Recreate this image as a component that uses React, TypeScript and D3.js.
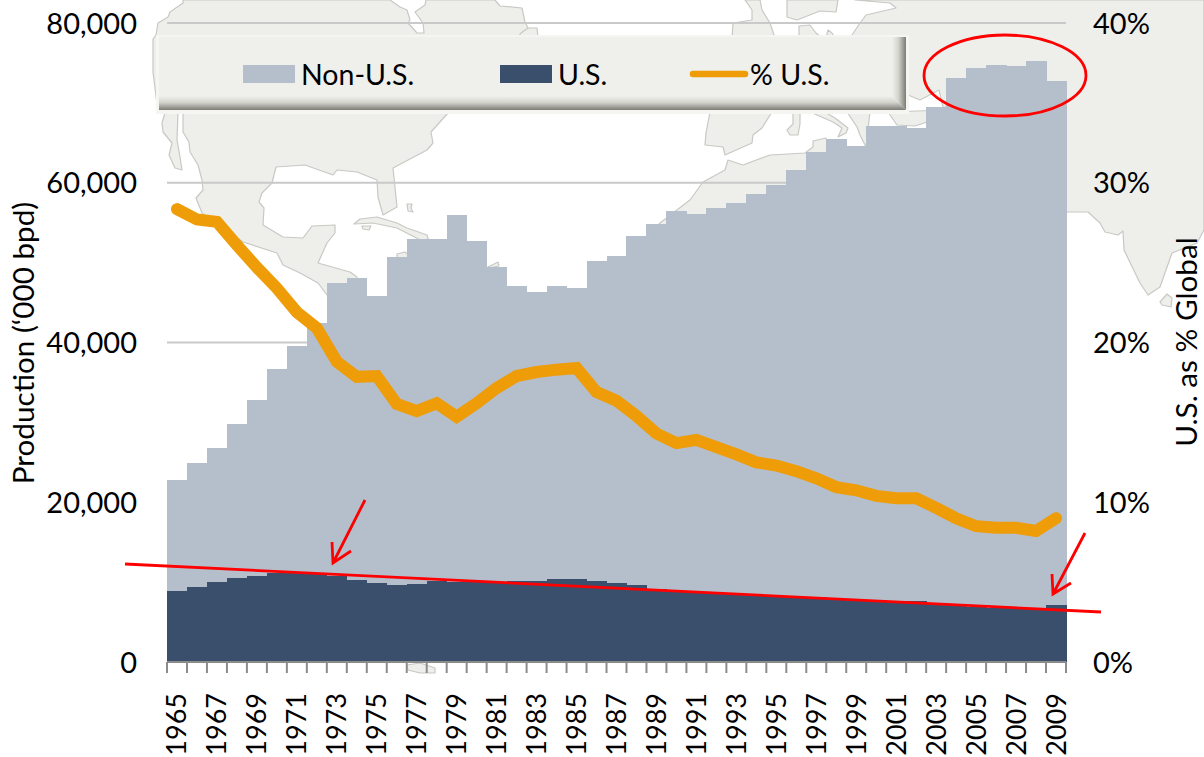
import React from "react";
import * as d3 from "d3";

const years = d3.range(1965, 2010);
const usProduction = [8900,9400,10000,10500,10770,11140,11100,10980,10770,10270,9890,9640,9770,10140,10050,10050,10000,10140,10140,10390,10390,10140,9890,9640,9100,8900,8800,8650,8400,8300,8200,8200,8100,7900,7600,7700,7650,7600,7400,7200,6850,6800,6800,6750,7140];
const nonUsProduction = [13900,15500,16800,19300,22030,25560,28500,31420,36730,37830,35910,41060,43130,42860,45850,42650,39400,36960,36160,36710,36410,40060,40910,43660,45700,47600,47300,48150,49100,50300,51500,53400,55800,57600,57000,59400,59450,59300,62100,65900,67550,67900,67800,68550,65560];
const usShare = [28.35,27.7,27.55,26.1,24.7,23.4,21.9,20.9,18.8,17.85,17.9,16.15,15.7,16.2,15.35,16.2,17.15,17.9,18.15,18.3,18.4,16.9,16.35,15.4,14.3,13.7,13.9,13.45,13.0,12.5,12.3,11.95,11.5,10.95,10.75,10.4,10.25,10.25,9.65,9.0,8.5,8.4,8.4,8.2,9.0];
const leftTicks = [0, 20000, 40000, 60000, 80000];
const rightTicks = [0, 10, 20, 30, 40];

const FONT = "Lato, Carlito, sans-serif";
const LAND = "#EEEFEB";
const COAST = "#C8C8C4";
const RED = "#FF0000";
const ORANGE = "#EE9C07";
const LIGHT = "#B5BFCC";
const DARK = "#3A4F6C";

// Decorative backdrop map outlines (not data)
const landShapes: string[] = [
  "M183,0 L183,3 170,12 168,17 158,23 156,35 153,39 153,72 158,112 183,113 183,132 189,142 190,152 198,165 202,180 203,190 196,198 202,213 243,242 277,253 283,265 300,273 318,283 327,295 357,295 357,277 350,272 318,263 327,243 335,233 335,225 312,226 303,238 283,237 263,225 264,208 259,202 262,193 272,183 276,167 305,165 333,175 337,170 357,172 377,180 378,197 383,215 397,207 393,168 427,150 433,143 431,132 448,113 448,100 528,100 528,28 525,22 522,8 500,6 495,0 426,0 425,5 415,12 423,23 424,33 417,33 408,23 410,20 407,10 400,7 390,0 Z",
  "M165,113 L162,123 163,132 172,143 169,155 175,168 182,170 180,157 177,140 178,113 Z",
  "M354,224 L360,219 377,217 397,223 407,228 427,235 430,245 397,228 373,223 Z",
  "M407,204 L412,204 411,208 413,212 408,211 Z",
  "M362,226 L371,226 369,230 363,229 Z",
  "M397,254 L405,252 410,256 410,262 397,262 Z",
  "M488,267 L498,262 499,266 488,268 Z",
  "M518,37 L521,33 528,28 537,28 538,37 Z",
  "M706,112 L710,112 706,133 705,145 723,147 725,155 752,143 753,135 762,128 772,112 Z",
  "M793,113 L800,113 800,124 798,135 790,135 787,130 793,124 Z",
  "M810,112 L833,122 842,128 838,137 846,133 848,128 835,118 825,112 Z",
  "M847,112 L857,127 860,135 866,147 870,112 Z",
  "M888,112 L897,125 915,126 930,121 945,121 945,110 Z",
  "M640,245 L660,223 690,200 703,182 725,170 728,160 743,165 770,155 805,153 813,147 813,141 826,138 830,150 830,260 640,260 Z",
  "M745,0 L752,10 752,20 733,23 732,38 775,38 770,23 762,10 760,0 Z",
  "M787,0 L787,17 797,20 820,11 836,12 838,0 Z",
  "M799,38 L799,26 810,25 816,33 822,38 Z",
  "M826,38 L828,30 832,33 835,38 Z",
  "M850,38 L860,23 866,15 896,8 890,3 855,0 1204,0 1204,230 1197,243 1172,253 1160,287 1148,295 1140,283 1124,250 1123,231 1118,235 1105,232 1100,223 1088,212 1066,212 950,212 947,107 943,107 939,90 920,100 908,95 906,38 Z",
  "M1160,302 L1167,294 1172,298 1171,307 1162,305 Z",
  "M407,665 L420,663 435,668 435,673 425,673 420,673 408,670 Z",
];

const trendLine: [[number, number], [number, number]] = [[125, 564], [1101, 612]];
const arrows = [
  { from: [365, 500], tip: [333, 563], a: [332, 542], b: [351, 551] },
  { from: [1085, 533], tip: [1053, 594], a: [1052, 574], b: [1071, 583] },
];

export default function App() {
  const W = 1204, H = 757;
  const plot = { left: 167, right: 1066, top: 23, bottom: 662 };
  const x = d3.scaleBand<number>().domain(years).range([plot.left, plot.right]);
  const y = d3.scaleLinear().domain([0, 80000]).range([plot.bottom, plot.top]);
  const yPct = d3.scaleLinear().domain([0, 40]).range([plot.bottom, plot.top]);
  const bw = x.bandwidth();

  const stack = d3.stack<number>()
    .keys(["us", "non"])
    .value((i, k) => (k === "us" ? usProduction[i] : nonUsProduction[i]));
  const [usLayer, nonLayer] = stack(years.map((_, i) => i));

  const line = d3.line<number>()
    .x((_, i) => (x(years[i]) as number) + bw / 2)
    .y((d) => yPct(d));

  const fmt = d3.format(",");
  const tickXs = [...years.map((yr) => x(yr) as number), plot.right];

  return (
    <svg width={W} height={H} viewBox={`0 0 ${W} ${H}`} style={{ position: "absolute", left: 0, top: 0, background: "#fff" }} fontFamily={FONT}>
      <defs>
        <linearGradient id="bevelB" gradientUnits="userSpaceOnUse" x1="0" y1="96" x2="0" y2="110">
          <stop offset="0" stopColor="#EFEFEB" />
          <stop offset="0.45" stopColor="#D5D5D0" />
          <stop offset="1" stopColor="#7C7C74" />
        </linearGradient>
        <linearGradient id="bevelR" gradientUnits="userSpaceOnUse" x1="892" y1="0" x2="906" y2="0">
          <stop offset="0" stopColor="#EFEFEB" />
          <stop offset="0.45" stopColor="#D5D5D0" />
          <stop offset="1" stopColor="#7C7C74" />
        </linearGradient>
      </defs>

      <g fill={LAND} stroke={COAST} strokeWidth={1.2} strokeLinejoin="round">
        {landShapes.map((d, i) => <path key={i} d={d} />)}
      </g>

      <g stroke="#C9C9C9" strokeWidth={2}>
        {leftTicks.slice(1).map((t) => (
          <line key={t} x1={plot.left} x2={plot.right} y1={y(t)} y2={y(t)} />
        ))}
      </g>

      <g shapeRendering="crispEdges">
        {years.map((yr, i) => (
          <rect key={yr} x={x(yr)} width={bw + 0.5} y={y(nonLayer[i][1])} height={y(nonLayer[i][0]) - y(nonLayer[i][1]) + 1} fill={LIGHT} />
        ))}
        {years.map((yr, i) => (
          <rect key={yr} x={x(yr)} width={bw + 0.5} y={y(usLayer[i][1])} height={y(usLayer[i][0]) - y(usLayer[i][1])} fill={DARK} />
        ))}
      </g>

      <path d={line(usShare) as string} fill="none" stroke={ORANGE} strokeWidth={12} strokeLinecap="round" strokeLinejoin="miter" />

      {/* x axis */}
      <g stroke="#8C8C8C" strokeWidth={2}>
        <line x1={plot.left} x2={plot.right} y1={plot.bottom} y2={plot.bottom} />
        {tickXs.map((tx, i) => <line key={i} x1={tx} x2={tx} y1={plot.bottom} y2={plot.bottom + 11} />)}
      </g>
      <g fontSize={27} fill="#000">
        {years.filter((_, i) => i % 2 === 0).map((yr) => (
          <text key={yr} transform={`translate(${(x(yr) as number) + bw / 2 - 1},693) rotate(-90)`} textAnchor="end" dominantBaseline="central">{yr}</text>
        ))}
      </g>

      {/* y axes */}
      <g fontSize={29} fill="#000">
        {leftTicks.map((t) => (
          <text key={t} x={137} y={y(t) - 1} textAnchor="end" dominantBaseline="central">{fmt(t)}</text>
        ))}
        {rightTicks.map((t) => (
          <text key={t} x={1093} y={yPct(t) - 1} dominantBaseline="central">{t}%</text>
        ))}
      </g>
      <text transform="translate(22,343) rotate(-90)" textAnchor="middle" dominantBaseline="central" fontSize={29.7} fill="#000">Production (‘000 bpd)</text>
      <text transform="translate(1185.5,342) rotate(-90)" textAnchor="middle" dominantBaseline="central" fontSize={29.7} fill="#000">U.S. as % Global</text>

      {/* legend */}
      <rect x={156} y={35} width={753} height={79} fill="#F5F5F2" />
      <rect x={159} y={37} width={747} height={73} fill="#EFEFEB" />
      <polygon points="159,96 892,96 906,110 159,110" fill="url(#bevelB)" />
      <polygon points="892,37 906,37 906,110 892,96" fill="url(#bevelR)" />
      <rect x={243} y={65} width={52} height={18} fill={LIGHT} />
      <rect x={500} y={65} width={52} height={18} fill={DARK} />
      <line x1={693} x2={745} y1={74} y2={74} stroke={ORANGE} strokeWidth={6.5} strokeLinecap="round" />
      <g fontSize={28.5} fill="#000" dominantBaseline="central">
        <text x={301} y={74}>Non-U.S.</text>
        <text x={558} y={74}>U.S.</text>
        <text x={750} y={74}>% U.S.</text>
      </g>

      {/* annotations */}
      <g fill="none" stroke={RED} strokeWidth={2.8}>
        <line x1={trendLine[0][0]} y1={trendLine[0][1]} x2={trendLine[1][0]} y2={trendLine[1][1]} />
        <ellipse cx={1005} cy={75.5} rx={81} ry={40.5} />
        {arrows.map((a, i) => (
          <path key={i} d={`M${a.from} L${a.tip} M${a.a} L${a.tip} L${a.b}`} />
        ))}
      </g>
    </svg>
  );
}
